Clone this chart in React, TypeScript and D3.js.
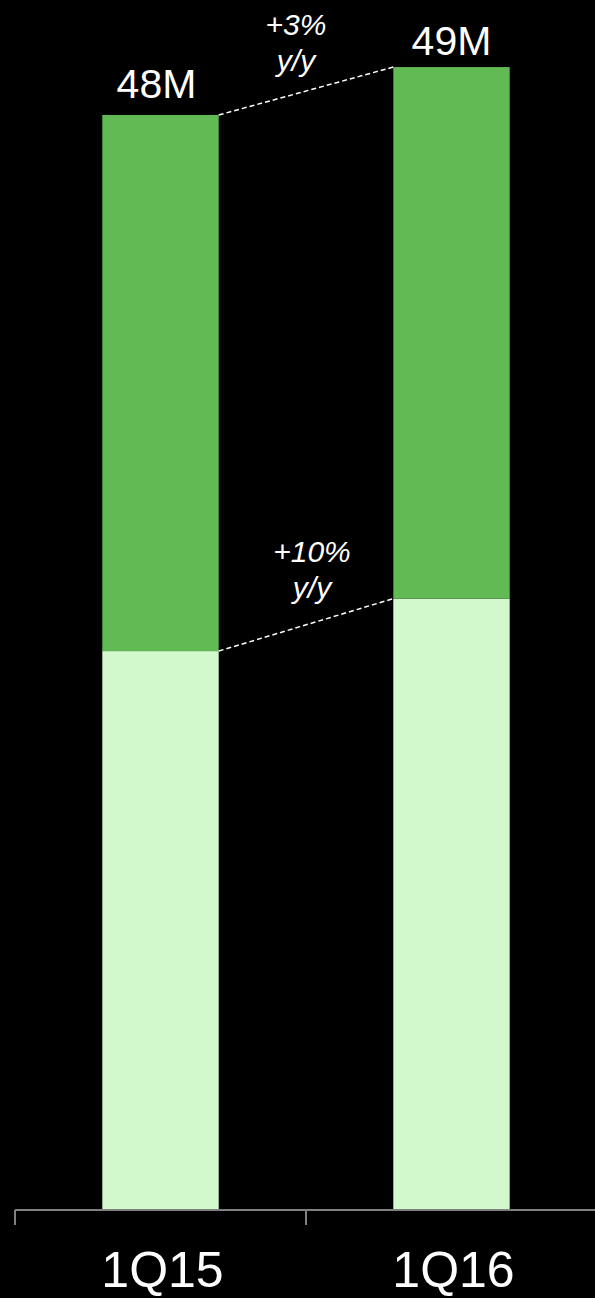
import React from "react";
import * as d3 from "d3";

const categories = ["1Q15", "1Q16"];
const baseValues = [24.5, 26.8];
const topValues = [23.5, 23.3];
const totalLabels = ["48M", "49M"];
const growthLabels = [
  ["+3%", "y/y"],
  ["+10%", "y/y"],
];

const W = 595;
const H = 1298;
const BASE_Y = 1210;
const FONT = "'Liberation Sans', Arial, Helvetica, sans-serif";

export default function App() {
  const x = d3
    .scaleBand<string>()
    .domain(categories)
    .range([15, 597])
    .paddingInner(0.6)
    .paddingOuter(0.3);
  const y = d3.scaleLinear().domain([0, 53.04]).range([BASE_Y, 0]);
  const bw = x.bandwidth();
  const step = x.step();

  const stacked = categories.map((c, i) => ({
    c,
    b0: 0,
    b1: baseValues[i],
    t0: baseValues[i],
    t1: baseValues[i] + topValues[i],
  }));

  const ticks = d3.range(categories.length + 1).map((i) => 15 + i * step);

  const connectors = [
    { y0: y(stacked[0].t1), y1: y(stacked[1].t1), dx: -10, dy: -56 },
    { y0: y(stacked[0].b1), y1: y(stacked[1].b1), dx: 6, dy: -62.5 },
  ];
  const xa = (x(categories[0]) as number) + bw;
  const xb = x(categories[1]) as number;

  return (
    <svg
      width={W}
      height={H}
      style={{ position: "absolute", left: 0, top: 0, display: "block" }}
    >
      <rect x={0} y={0} width={W} height={H} fill="#000" />
      {stacked.map((d) => (
        <g key={d.c}>
          <rect
            x={x(d.c)}
            y={y(d.b1)}
            width={bw}
            height={y(d.b0) - y(d.b1)}
            fill="#d1f9cb"
          />
          <rect
            x={x(d.c)}
            y={y(d.t1)}
            width={bw}
            height={y(d.t0) - y(d.t1)}
            fill="#62ba55"
          />
        </g>
      ))}
      {stacked.map((d, i) => (
        <text
          key={"t" + d.c}
          x={(x(d.c) as number) + bw / 2 - (i === 0 ? 4 : 0)}
          y={y(d.t1) - (i === 0 ? 17 : 12)}
          fill="#fff"
          fontFamily={FONT}
          fontSize={41}
          textAnchor="middle"
        >
          {totalLabels[i]}
        </text>
      ))}
      {connectors.map((cn, i) => {
        const mx = (xa + xb) / 2 + cn.dx;
        const my = (cn.y0 + cn.y1) / 2 + cn.dy;
        return (
          <g key={"c" + i}>
            <line
              x1={xa}
              y1={cn.y0}
              x2={xb}
              y2={cn.y1}
              stroke="#fff"
              strokeWidth={1.5}
              strokeDasharray="5,3"
            />
            {growthLabels[i].map((s, j) => (
              <text
                key={j}
                x={mx}
                y={my + j * 36}
                fill="#fff"
                fontFamily={FONT}
                fontSize={30}
                fontStyle="italic"
                textAnchor="middle"
              >
                {s}
              </text>
            ))}
          </g>
        );
      })}
      <line x1={15} y1={BASE_Y} x2={W} y2={BASE_Y} stroke="#808080" strokeWidth={2} />
      {ticks.map((t, i) => (
        <line key={"k" + i} x1={t} y1={BASE_Y} x2={t} y2={BASE_Y + 15} stroke="#808080" strokeWidth={2} />
      ))}
      {categories.map((c) => (
        <text
          key={"l" + c}
          x={(x(c) as number) + bw / 2 + 2}
          y={1287}
          fill="#fff"
          fontFamily={FONT}
          fontSize={50}
          textAnchor="middle"
        >
          {c}
        </text>
      ))}
    </svg>
  );
}
